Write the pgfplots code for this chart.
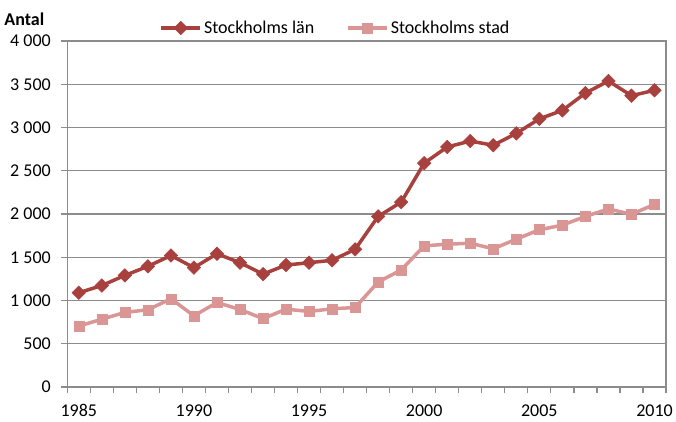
\documentclass[border=0pt]{standalone}
\usepackage{fontspec}
\setmainfont{Carlito}
\usepackage{pgfplots}
\pgfplotsset{compat=1.18}
\definecolor{lanred}{RGB}{168,64,62}
\definecolor{stadpink}{RGB}{217,150,148}
\definecolor{axgray}{RGB}{140,140,140}
\begin{document}
\begin{tikzpicture}
\useasboundingbox (-67.3pt,-35pt) rectangle (608.7pt,387pt);
\begin{axis}[
  scale only axis,
  width=598.7pt, height=346pt,
  xmin=1984.5, xmax=2010.5,
  ymin=0, ymax=4000,
  xtick={1985,1990,...,2010},
  minor xtick={1984.5,1985.5,...,2010.5},
  ytick={0,500,...,4000},
  major x tick style={draw=none},
  tick align=outside,
  major tick length=6pt,
  minor tick length=6pt,
  tick style={axgray, line width=1.2pt},
  xtick pos=bottom, ytick pos=left,
  axis line style={axgray, line width=1.3pt},
  ymajorgrids,
  grid style={axgray, line width=1.2pt},
  /pgf/number format/.cd, 1000 sep={\ }, assume math mode=true,
  /pgfplots/.cd,
  xticklabel={\pgfmathprintnumber[/pgf/number format/1000 sep={}]{\tick}},
  tick label style={font=\fontsize{18}{21}\selectfont},
  yticklabel style={xshift=-7pt},
  xticklabel style={yshift=-8pt},
  legend style={draw=none, fill=none, at={(axis description cs:0.448,1.0376)}, anchor=center,
    font=\fontsize{18}{21}\selectfont, /tikz/every even column/.append style={column sep=30pt}},
  legend columns=2,
  legend image code/.code={\draw[mark repeat=2,mark phase=2,#1] plot coordinates {(0pt,0pt) (19.5pt,0pt) (39pt,0pt)};},
  clip=false,
]
\addplot[lanred, line width=3.5pt, mark=square*, mark size=4.8pt, mark options={rotate=45, solid, line width=0.5pt}]
coordinates {
(1985,1090) (1986,1173) (1987,1290) (1988,1395) (1989,1520) (1990,1380)
(1991,1540) (1992,1437) (1993,1305) (1994,1410) (1995,1437) (1996,1465)
(1997,1592) (1998,1972) (1999,2137) (2000,2588) (2001,2775) (2002,2843)
(2003,2795) (2004,2932) (2005,3100) (2006,3198) (2007,3398) (2008,3537)
(2009,3368) (2010,3430)};
\addlegendentry{Stockholms län}
\addplot[stadpink, line width=3.5pt, mark=square*, mark size=5pt, mark options={solid, line width=0.5pt}]
coordinates {
(1985,704) (1986,784) (1987,862) (1988,893) (1989,1020) (1990,823)
(1991,977) (1992,896) (1993,790) (1994,900) (1995,873) (1996,904)
(1997,919) (1998,1214) (1999,1353) (2000,1632) (2001,1651) (2002,1662)
(2003,1598) (2004,1709) (2005,1818) (2006,1871) (2007,1972) (2008,2058)
(2009,1997) (2010,2111)};
\addlegendentry{Stockholms stad}
\node[anchor=base east, font=\fontsize{18}{21}\selectfont\bfseries, xshift=-19.5pt, yshift=15pt] at (rel axis cs:0,1) {Antal};
\end{axis}
\end{tikzpicture}
\end{document}
